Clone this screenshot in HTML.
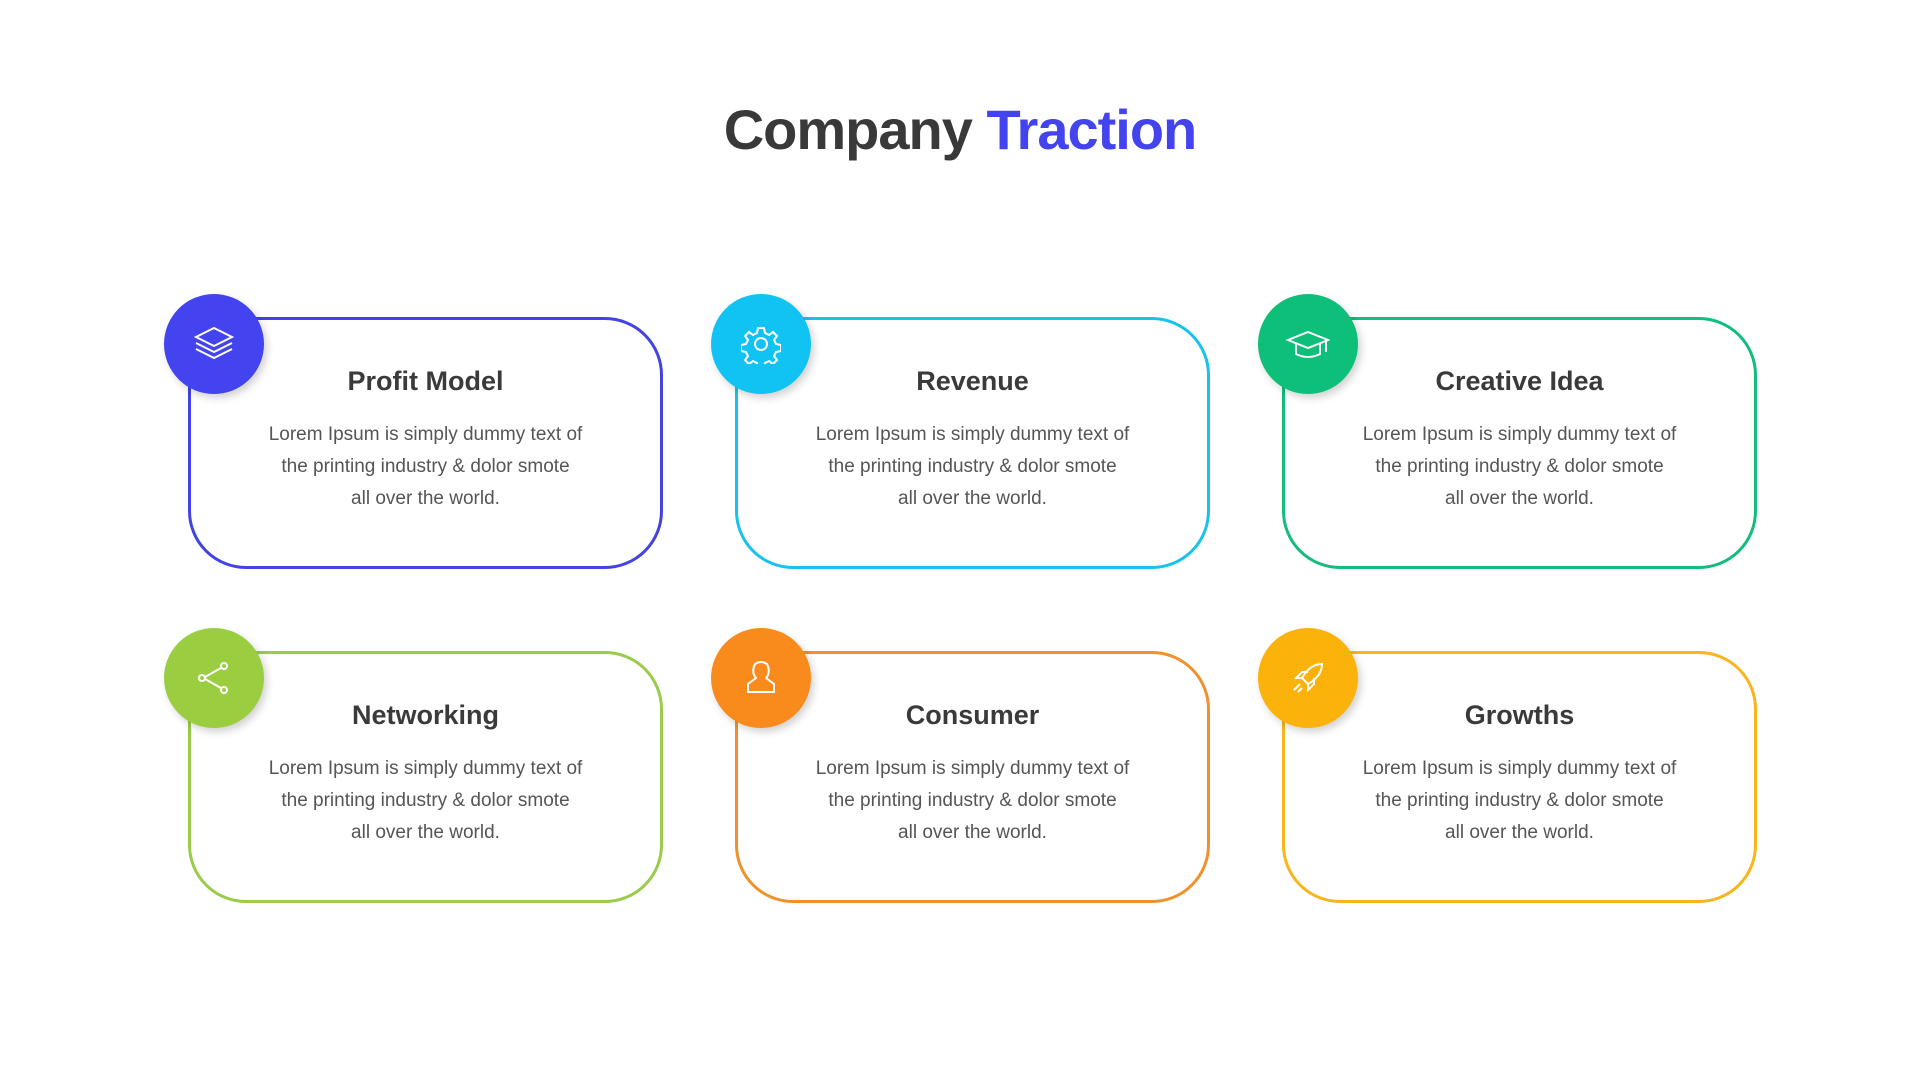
<!DOCTYPE html>
<html><head><meta charset="utf-8"><style>
body{margin:0;width:1920px;height:1080px;background:#fff;font-family:"Liberation Sans",sans-serif;position:relative;overflow:hidden}
h1{position:absolute;top:95px;left:0;width:1920px;text-align:center;margin:0;font-size:56px;letter-spacing:-1px;color:#393939;font-weight:bold;line-height:70px}
h1 span{color:#4444ee}
.card{position:absolute;width:469px;height:246px;border:3.5px solid;border-radius:58px;box-sizing:content-box}
.card h2{position:absolute;top:43px;left:0;width:100%;text-align:center;margin:0;font-size:27px;color:#3a3a3a;line-height:36px}
.card p{position:absolute;top:99px;left:0;width:100%;text-align:center;margin:0;font-size:19px;line-height:32px;color:#555}
.ic{position:absolute;width:100px;height:100px;border-radius:50%;box-shadow:3px 4px 8px rgba(0,0,0,.18);display:flex;align-items:center;justify-content:center}
</style></head><body>
<h1>Company <span>Traction</span></h1>

<div class="card" style="left:188px;top:317px;border-color:#4343e3"><h2>Profit Model</h2><p>Lorem Ipsum is simply dummy text of<br>the printing industry &amp; dolor smote<br>all over the world.</p></div>
<div class="card" style="left:735px;top:317px;border-color:#19c2ec"><h2>Revenue</h2><p>Lorem Ipsum is simply dummy text of<br>the printing industry &amp; dolor smote<br>all over the world.</p></div>
<div class="card" style="left:1282px;top:317px;border-color:#14bd7d"><h2>Creative Idea</h2><p>Lorem Ipsum is simply dummy text of<br>the printing industry &amp; dolor smote<br>all over the world.</p></div>
<div class="card" style="left:188px;top:651px;border-color:#9acb4a"><h2>Networking</h2><p>Lorem Ipsum is simply dummy text of<br>the printing industry &amp; dolor smote<br>all over the world.</p></div>
<div class="card" style="left:735px;top:651px;border-color:#f0912c"><h2>Consumer</h2><p>Lorem Ipsum is simply dummy text of<br>the printing industry &amp; dolor smote<br>all over the world.</p></div>
<div class="card" style="left:1282px;top:651px;border-color:#f8b51c"><h2>Growths</h2><p>Lorem Ipsum is simply dummy text of<br>the printing industry &amp; dolor smote<br>all over the world.</p></div>

<div class="ic" style="left:164px;top:294px;background:#4343ef"><svg width="44" height="40" viewBox="0 0 44 40" fill="none" stroke="#fff" stroke-width="2"><path d="M22 4 L40 13 L22 22 L4 13Z"/><path d="M4 19 L22 28 L40 19"/><path d="M4 25 L22 34 L40 25"/></svg></div>
<div class="ic" style="left:711px;top:294px;background:#10c3f2"><svg width="40" height="40" viewBox="0 0 40 40" fill="none" stroke="#fff" stroke-width="2"><circle cx="20" cy="20" r="6"/><path d="M17 4h6l1 5 4 2 4-3 4 4-3 4 2 4 5 1v6l-5 1-2 4 3 4-4 4-4-3-4 2-1 5h-6l-1-5-4-2-4 3-4-4 3-4-2-4-5-1v-6l5-1 2-4-3-4 4-4 4 3 4-2z"/></svg></div>
<div class="ic" style="left:1258px;top:294px;background:#0ebf79"><svg width="44" height="36" viewBox="0 0 44 36" fill="none" stroke="#fff" stroke-width="2"><path d="M22 6 L42 14 L22 22 L2 14Z"/><path d="M10 18 V28 Q22 34 34 28 V18"/><path d="M40 15 V26"/></svg></div>
<div class="ic" style="left:164px;top:628px;background:#9acd40"><svg width="40" height="40" viewBox="0 0 40 40" fill="none" stroke="#fff" stroke-width="2"><circle cx="30" cy="8" r="3"/><circle cx="8" cy="20" r="3"/><circle cx="30" cy="32" r="3"/><path d="M27 10 L11 19 M11 21 L27 30"/></svg></div>
<div class="ic" style="left:711px;top:628px;background:#f98a1c"><svg width="40" height="40" viewBox="0 0 40 40" fill="none" stroke="#fff" stroke-width="2"><path d="M14 6 Q20 2 26 6 Q30 14 25 20 L33 26 V34 H7 V26 L15 20 Q10 14 14 6Z"/></svg></div>
<div class="ic" style="left:1258px;top:628px;background:#fbb20a"><svg width="40" height="40" viewBox="0 0 40 40" fill="none" stroke="#fff" stroke-width="2"><path d="M34 6 Q22 6 14 20 L20 26 Q34 18 34 6Z"/><path d="M14 20 L8 20 L14 14 L20 14 M20 26 L20 32 L26 26 L26 20"/><path d="M12 26 L6 32 M14 30 L10 34"/></svg></div>
</body></html>
